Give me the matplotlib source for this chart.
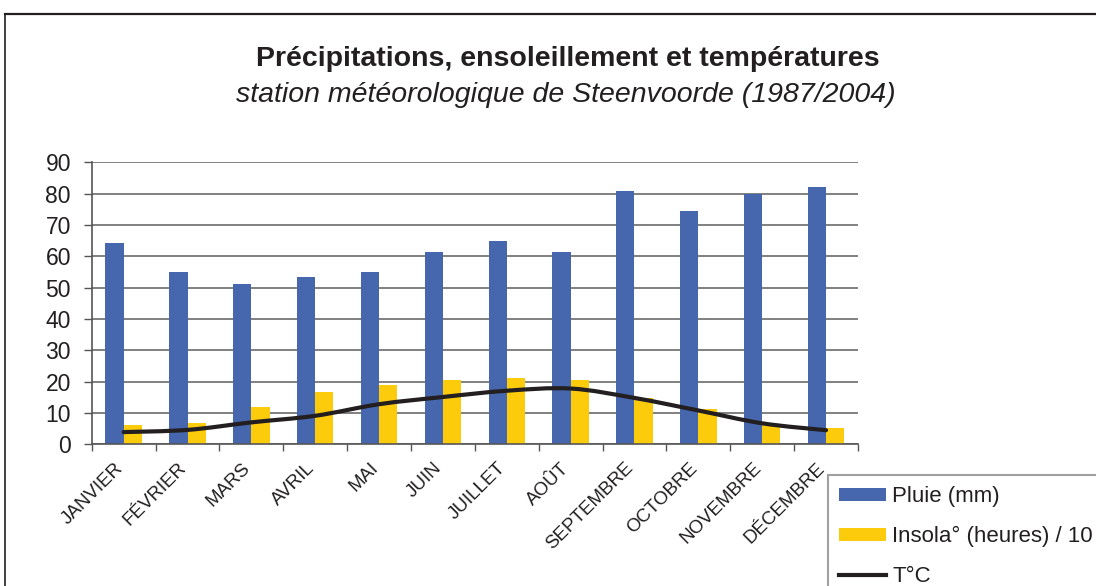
import matplotlib.pyplot as plt
import numpy as np
from matplotlib.path import Path
from matplotlib.patches import PathPatch, Patch
from matplotlib.lines import Line2D

plt.rcParams["font.family"] = ["Liberation Sans", "DejaVu Sans"]

months = ["JANVIER", "FÉVRIER", "MARS", "AVRIL", "MAI", "JUIN",
          "JUILLET", "AOÛT", "SEPTEMBRE", "OCTOBRE", "NOVEMBRE", "DÉCEMBRE"]
pluie = [64.3, 55.0, 51.2, 53.4, 55.0, 61.4, 64.9, 61.4, 80.9, 74.5, 79.9, 82.1]
insolation = [6.2, 6.8, 11.9, 16.7, 18.9, 20.5, 21.2, 20.5, 14.8, 11.3, 6.4, 5.2]
temperature = [3.9, 4.6, 7.0, 9.1, 12.8, 15.1, 17.1, 17.8, 14.8, 10.8, 6.7, 4.5]

blue = "#4667AE"
yellow = "#FCCC0C"
dark = "#231F20"

fig = plt.figure(figsize=(10.96, 5.86), dpi=100)
ax = fig.add_axes([0.0837, 0.2418, 0.6991, 0.4812])

x = np.arange(len(months))
w = 0.285
ax.bar(x - w / 2, pluie, width=w, color=blue, zorder=2)
ax.bar(x + w / 2, insolation, width=w, color=yellow, zorder=2)

# smoothed temperature curve (bezier segments through the monthly points)
pts = np.column_stack([x, temperature]).astype(float)
ext = np.vstack([pts[0], pts, pts[-1]])
verts = [tuple(pts[0])]
codes = [Path.MOVETO]
for i in range(len(pts) - 1):
    p0, p1, p2, p3 = ext[i], ext[i + 1], ext[i + 2], ext[i + 3]
    c1 = p1 + (p2 - p0) / 6
    c2 = p2 - (p3 - p1) / 6
    verts += [tuple(c1), tuple(c2), tuple(p2)]
    codes += [Path.CURVE4] * 3
ax.add_patch(PathPatch(Path(verts, codes), facecolor="none", edgecolor=dark,
                       lw=3, capstyle="round", joinstyle="round", zorder=3))

ax.set_xlim(-0.5, len(months) - 0.5)
ax.set_ylim(0, 90)
ax.set_yticks(range(0, 91, 10))
ax.yaxis.grid(True, color="#6b6b6b", lw=1.2, zorder=0)
ax.set_axisbelow(True)

# month labels sit a bit left of the category centre (invisible major ticks)
ax.set_xticks(x - 0.15)
ax.set_xticklabels(months, rotation=45, ha="right", va="top",
                   rotation_mode="anchor", fontsize=13.5, color=dark)
ax.set_xticks(np.arange(-0.5, len(months)), minor=True)
ax.tick_params(axis="x", which="major", length=0, pad=11)
ax.tick_params(axis="x", which="minor", length=5, width=1, color="#555555")
ax.tick_params(axis="y", length=6, width=1, color="#555555", pad=9,
               labelsize=16.5, labelcolor=dark)

for side in ["top", "right"]:
    ax.spines[side].set_visible(False)
ax.spines["left"].set_color("#555555")
ax.spines["bottom"].set_color("#555555")
ax.spines["left"].set_linewidth(1.2)
ax.spines["bottom"].set_linewidth(1.2)

fig.text(0.518, 0.899, "Précipitations, ensoleillement et températures",
         ha="center", va="center", fontsize=20.5, fontweight="bold", color=dark)
fig.text(0.516, 0.838, "station météorologique de Steenvoorde (1987/2004)",
         ha="center", va="center", fontsize=20.5, style="italic", color=dark)

handles = [Patch(facecolor=blue), Patch(facecolor=yellow),
           Line2D([], [], color=dark, lw=3)]
labels = ["Pluie (mm)", "Insola° (heures) / 10", "T°C"]
leg = fig.legend(handles, labels, loc="upper left",
                 bbox_to_anchor=(828 / 1096, 1 - 475 / 586),
                 fontsize=16, frameon=True, fancybox=False, edgecolor="#888888",
                 handlelength=2.1, handleheight=0.55, handletextpad=0.3,
                 labelspacing=0.86, borderpad=0.5, borderaxespad=0)
leg.get_frame().set_linewidth(1.5)
for t in leg.get_texts():
    t.set_color(dark)

# outer frame
fig.add_artist(Line2D([5 / 1096, 1.0], [1 - 14 / 586] * 2, color=dark, lw=1.6))
fig.add_artist(Line2D([5 / 1096] * 2, [0, 1 - 14 / 586], color=dark, lw=1.2))

fig.savefig("out.png", dpi=100)
